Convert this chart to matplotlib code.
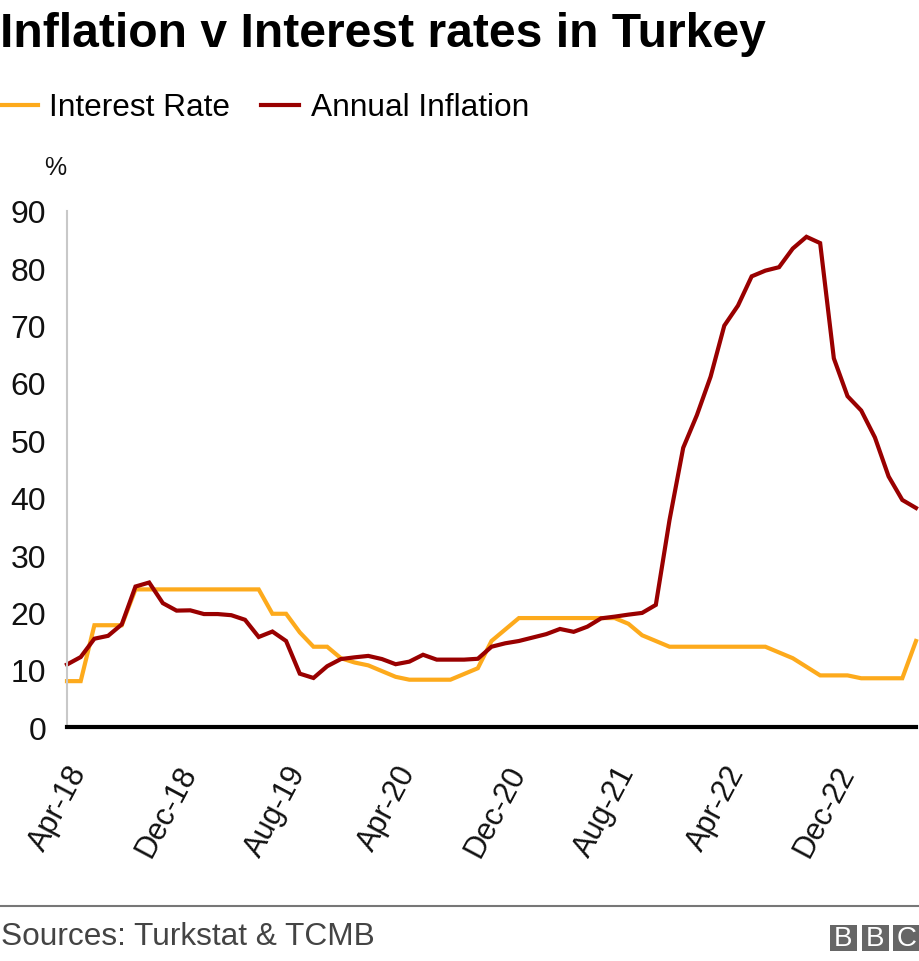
import matplotlib
matplotlib.use('Agg')
from matplotlib import pyplot as plt
from matplotlib.patches import Rectangle
from matplotlib.lines import Line2D

W = 920
H = 962

months = ['Jan', 'Feb', 'Mar', 'Apr', 'May', 'Jun', 'Jul', 'Aug', 'Sep', 'Oct', 'Nov', 'Dec']
years = ['18', '19', '20', '21', '22', '23']
dates = [m + '-' + y for y in years for m in months][3:66]

interest_rate = [8, 8, 17.75, 17.75, 17.75, 24, 24, 24, 24, 24, 24, 24, 24, 24, 24,
                 19.75, 19.75, 16.5, 14, 14, 12, 11.25, 10.75, 9.75, 8.75, 8.25, 8.25,
                 8.25, 8.25, 9.25, 10.25, 15, 17, 19, 19, 19, 19, 19, 19, 19, 19,
                 18, 16, 15, 14, 14, 14, 14, 14, 14, 14, 14, 13, 12, 10.5, 9, 9, 9,
                 8.5, 8.5, 8.5, 8.5, 15]
annual_inflation = [10.9, 12.2, 15.4, 15.9, 17.9, 24.5, 25.2, 21.6, 20.3, 20.35, 19.7,
                    19.7, 19.5, 18.7, 15.7, 16.65, 15.0, 9.3, 8.55, 10.6, 11.85, 12.15,
                    12.4, 11.85, 10.95, 11.4, 12.6, 11.75, 11.75, 11.75, 11.9, 14.0,
                    14.6, 15.0, 15.6, 16.2, 17.1, 16.6, 17.5, 18.95, 19.25, 19.6, 19.9,
                    21.3, 36.1, 48.7, 54.4, 61.1, 70.0, 73.5, 78.6, 79.6, 80.2, 83.45,
                    85.5, 84.4, 64.3, 57.7, 55.2, 50.5, 43.7, 39.6, 38.2]
y_ticks = [0, 10, 20, 30, 40, 50, 60, 70, 80, 90]

ORANGE = '#fdaa1c'
RED = '#990000'
GREY = '#666666'

plt.rcParams['font.family'] = ['Liberation Sans', 'DejaVu Sans']

fig = plt.figure(figsize=(W / 100, H / 100), dpi=100)
ax = fig.add_axes([67 / W, 1 - 728 / H, 849 / W, 516 / H])

x = list(range(len(dates)))
ax.plot(x, interest_rate, color=ORANGE, lw=3, solid_joinstyle='miter', clip_on=False, label='Interest Rate')
ax.plot(x, annual_inflation, color=RED, lw=3, solid_joinstyle='miter', clip_on=False, label='Annual Inflation')

ax.set_xlim(0, len(dates) - 1)
ax.set_ylim(0, 90)
ax.set_yticks(y_ticks)
ax.set_xticks(x[::8])
ax.set_xticklabels(dates[::8], rotation=62, ha='right', rotation_mode='anchor')
ax.tick_params(axis='both', length=0, labelsize=23, labelcolor='#111111')
ax.tick_params(axis='x', pad=24, labelsize=22)
ax.tick_params(axis='y', pad=15)

for side in ('top', 'right'):
    ax.spines[side].set_visible(False)
ax.spines['left'].set_color('#c8c8c8')
ax.spines['left'].set_linewidth(1.5)
ax.spines['bottom'].set_color('black')
ax.spines['bottom'].set_linewidth(3)

# title, legend, unit
fig.text(0, 1 - 47 / H, 'Inflation v Interest rates in Turkey', fontsize=34.6, fontweight='bold', color='black')
fig.legend(loc='upper left', bbox_to_anchor=(0, 1 - 93 / H), ncol=2, frameon=False, borderaxespad=0, borderpad=0,
           fontsize=22.8, handlelength=1.2, handleheight=0.5, handletextpad=0.36, columnspacing=0.97)
fig.text(44 / W, 1 - 175 / H, '%', fontsize=18, color='#111111')

# footer
fig.add_artist(Line2D([0, 1], [1 - 907 / H, 1 - 907 / H], color='#777777', lw=1.5))
fig.text(1 / W, 1 - 945 / H, 'Sources: Turkstat & TCMB', fontsize=22.8, color='#444444')

# bbc blocks
for left, letter in ((830, 'B'), (862, 'B'), (893, 'C')):
    fig.add_artist(Rectangle((left / W, 1 - 952 / H), 27 / W, 26 / H, transform=fig.transFigure,
                             facecolor=GREY, edgecolor='none'))
    fig.text((left + 13.5) / W, 1 - 939.5 / H, letter, fontsize=20, color='white',
             ha='center', va='center')

fig.savefig('out.png', dpi=100)
